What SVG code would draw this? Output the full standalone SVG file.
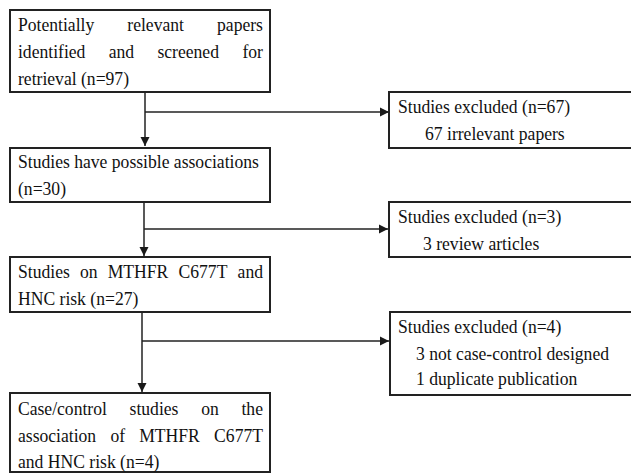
<svg xmlns="http://www.w3.org/2000/svg" width="631" height="473" viewBox="0 0 631 473">
<defs>
<marker id="ah" markerWidth="10" markerHeight="10" refX="9" refY="5" orient="auto" markerUnits="userSpaceOnUse">
<path d="M0,0.5 L9,5 L0,9.5 Z" fill="#1a1a1a"/>
</marker>
</defs>
<style>
.box{fill:#fff;stroke:#222;stroke-width:2}
.t{font-family:"Liberation Serif","Times New Roman",serif;font-size:19px;fill:#111}
.e{text-anchor:end}
.ln{fill:none;stroke:#222;stroke-width:1.5}
</style>
<rect width="631" height="473" fill="#fff"/>
<g id="connectors">
<line class="ln" x1="145" y1="92" x2="145" y2="146" marker-end="url(#ah)"/>
<line class="ln" x1="145" y1="112" x2="389" y2="112" marker-end="url(#ah)"/>
<line class="ln" x1="144" y1="202" x2="144" y2="256" marker-end="url(#ah)"/>
<line class="ln" x1="144" y1="229" x2="388" y2="229" marker-end="url(#ah)"/>
<line class="ln" x1="142" y1="312" x2="142" y2="392" marker-end="url(#ah)"/>
<line class="ln" x1="142" y1="341" x2="389" y2="341" marker-end="url(#ah)"/>
</g>
<g id="n1">
<rect class="box" x="10" y="10" width="260" height="82"/>
<g transform="scale(0.927 1)">
<text class="t" x="19.4" y="31">Potentially</text>
<text class="t" x="137.3" y="31">relevant</text>
<text class="t e" x="283.7" y="31">papers</text>
<text class="t" x="19.4" y="58">identified</text>
<text class="t" x="117.3" y="58">and</text>
<text class="t" x="169.8" y="58">screened</text>
<text class="t e" x="283.7" y="58">for</text>
<text class="t" x="19.4" y="85">retrieval (n=97)</text>
</g>
</g>
<g id="n2">
<rect class="box" x="10" y="148" width="260" height="54"/>
<g transform="scale(0.927 1)">
<text class="t" x="19.4" y="168">Studies have possible associations</text>
<text class="t" x="19.4" y="195">(n=30)</text>
</g>
</g>
<g id="n3">
<rect class="box" x="10" y="257" width="260" height="55"/>
<g transform="scale(0.927 1)">
<text class="t" x="19.4" y="278">Studies</text>
<text class="t" x="86.3" y="278">on</text>
<text class="t" x="116.2" y="278">MTHFR</text>
<text class="t" x="192.6" y="278">C677T</text>
<text class="t e" x="283.7" y="278">and</text>
<text class="t" x="19.4" y="305">HNC risk (n=27)</text>
</g>
</g>
<g id="n4">
<rect class="box" x="10" y="393" width="260" height="79"/>
<g transform="scale(0.927 1)">
<text class="t" x="19.4" y="415">Case/control</text>
<text class="t" x="139.8" y="415">studies</text>
<text class="t" x="217" y="415">on</text>
<text class="t e" x="283.7" y="415">the</text>
<text class="t" x="19.4" y="442">association</text>
<text class="t" x="119.1" y="442">of</text>
<text class="t" x="150.2" y="442">MTHFR</text>
<text class="t e" x="283.7" y="442">C677T</text>
<text class="t" x="19.4" y="468">and HNC risk (n=4)</text>
</g>
</g>
<g id="r1">
<rect class="box" x="389" y="92" width="260" height="56"/>
<g transform="scale(0.927 1)">
<text class="t" x="429.3" y="113">Studies excluded (n=67)</text>
<text class="t" x="458.5" y="140">67 irrelevant papers</text>
</g>
</g>
<g id="r2">
<rect class="box" x="389" y="202" width="260" height="55"/>
<g transform="scale(0.927 1)">
<text class="t" x="429.3" y="223">Studies excluded (n=3)</text>
<text class="t" x="456.3" y="250">3 review articles</text>
</g>
</g>
<g id="r3">
<rect class="box" x="390" y="312" width="260" height="83"/>
<g transform="scale(0.927 1)">
<text class="t" x="429.3" y="333">Studies excluded (n=4)</text>
<text class="t" x="448.8" y="360">3 not case-control designed</text>
<text class="t" x="448.8" y="385">1 duplicate publication</text>
</g>
</g>
</svg>
